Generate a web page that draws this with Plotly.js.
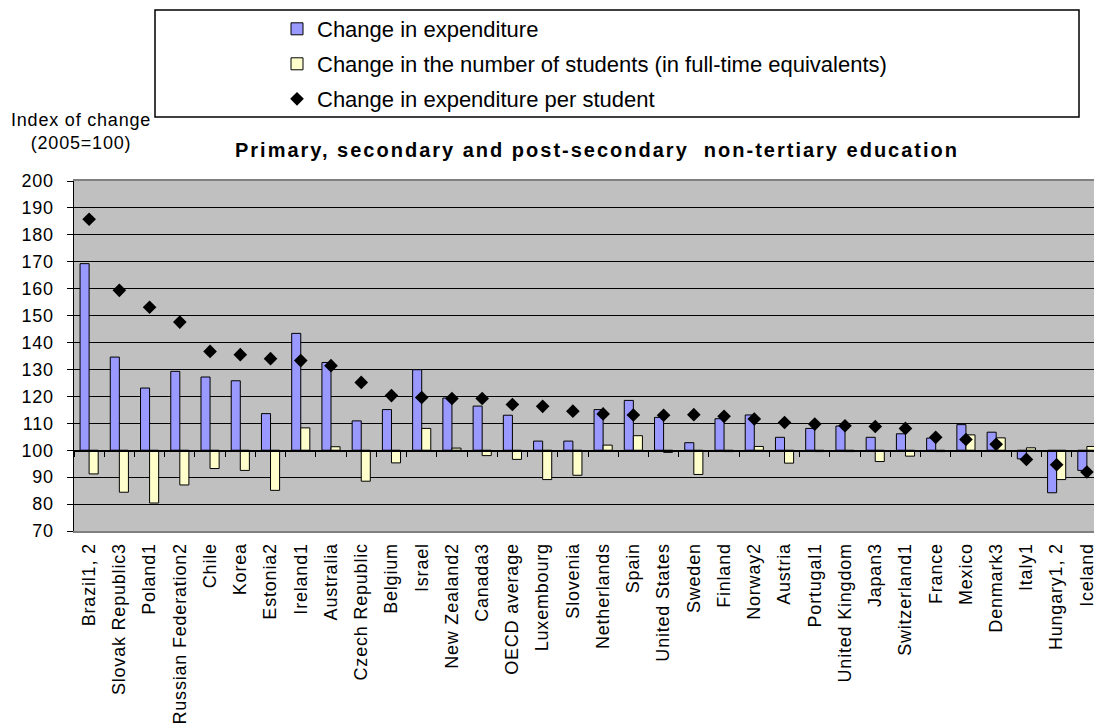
<!DOCTYPE html>
<html>
<head>
<meta charset="utf-8">
<script src="https://cdn.plot.ly/plotly-3.0.1.min.js"></script>
<style>
html, body { margin:0; padding:0; overflow:hidden; background:#ffffff; }
#chart .xtick text { letter-spacing:0.8px; }
#chart .ytick text { letter-spacing:0.8px; }
#chart .gtitle { letter-spacing:2px; }
#chart .annotation-text { letter-spacing:0.8px; }
</style>
</head>
<body>
<div id="chart"></div>
<script>
const categories = ["Brazil1, 2","Slovak Republic3","Poland1","Russian Federation2","Chile","Korea","Estonia2","Ireland1","Australia","Czech Republic","Belgium","Israel","New Zealand2","Canada3","OECD average","Luxembourg","Slovenia","Netherlands","Spain","United States","Sweden","Finland","Norway2","Austria","Portugal1","United Kingdom","Japan3","Switzerland1","France","Mexico","Denmark3","Italy1","Hungary1, 2","Iceland"];
const expenditure = [169.3,134.6,123.1,129.3,127.2,125.8,113.6,143.4,132.6,110.9,115.1,129.9,119.4,116.4,113.0,103.4,103.4,115.1,118.5,112.2,102.8,111.7,113.1,104.8,108.1,109.0,104.8,106.1,104.5,109.5,106.7,96.8,84.2,92.5];
const students = [91.2,84.4,80.4,87.1,93.2,92.5,85.1,108.3,101.3,88.5,95.3,108.1,100.8,98.0,96.6,89.1,90.7,101.9,105.4,99.2,91.0,99.5,101.4,95.2,99.5,99.5,95.8,97.8,99.5,105.7,104.6,100.9,89.1,101.4];
const perStudent = [185.8,159.4,153.1,147.6,136.7,135.5,134.0,133.3,131.4,125.2,120.3,119.6,119.2,119.2,117.0,116.3,114.5,113.5,113.1,113.0,113.2,112.6,111.6,110.3,109.7,109.1,108.8,108.1,104.8,104.0,102.2,96.6,94.6,91.9];
const baseIndex = 100;
const seriesNames = ["Change in expenditure","Change in the number of students (in full-time equivalents)","Change in expenditure per student"];

const W = 1110, H = 724;
const L = 74, R = 8, T = 181, B = 193;
const pw = W - L - R, ph = H - T - B;
const px = v => (v - L) / pw;
const py = v => (H - B - v) / ph;

const traces = [
  {type:'bar', name:seriesNames[0], x:categories, y:expenditure.map(v => v - baseIndex), base:baseIndex,
   marker:{color:'#9999FF', line:{color:'#000000', width:1}}, legend:'legend', showlegend:true, hoverinfo:'skip'},
  {type:'bar', name:seriesNames[1], x:categories, y:students.map(v => v - baseIndex), base:baseIndex,
   marker:{color:'#FFFFCC', line:{color:'#000000', width:1}}, legend:'legend2', showlegend:true, hoverinfo:'skip'},
  {type:'scatter', mode:'markers', name:seriesNames[2], x:categories, y:perStudent, xaxis:'x2', yaxis:'y',
   marker:{symbol:'diamond', size:10.5, color:'#000000'}, legend:'legend3', showlegend:true, hoverinfo:'skip'}
];

const legBase = {xref:'paper', yref:'paper', x:px(277), xanchor:'left', yanchor:'middle', visible:true,
  bgcolor:'rgba(0,0,0,0)', borderwidth:0, font:{size:22, color:'#000000'}};

const layout = {
  width:W, height:H,
  showlegend:true,
  margin:{l:L, r:R, t:T, b:B, pad:0, autoexpand:false},
  paper_bgcolor:'#ffffff', plot_bgcolor:'#C0C0C0',
  barmode:'group', bargap:0.4, bargroupgap:0,
  font:{family:'"Liberation Sans", Arial, sans-serif', color:'#000000'},
  title:{text:'Primary, secondary and post-secondary\u00a0 non-tertiary education',
    font:{size:20, weight:'bold', color:'#000000'},
    xref:'container', x:597/W, xanchor:'center', yref:'container', y:1 - 150/H, yanchor:'middle'},
  xaxis:{type:'category', categoryorder:'array', categoryarray:categories, range:[-0.5, categories.length - 0.5],
    tickangle:-90, tickfont:{size:18, color:'#000000'}, showline:true, linecolor:'#808080', linewidth:2, mirror:true,
    ticks:'', showgrid:false, zeroline:false, ticklabelstandoff:3, automargin:false},
  xaxis2:{type:'category', categoryorder:'array', categoryarray:categories, range:[-0.5, categories.length - 0.5],
    overlaying:'x', anchor:'free', position:(baseIndex - 70) / (200 - 70), side:'bottom',
    showline:true, linecolor:'#000000', linewidth:1.5, ticks:'outside', ticklen:5, tickwidth:1, tickcolor:'#000000',
    tickson:'boundaries', showticklabels:false, showgrid:false, zeroline:false, automargin:false},
  yaxis:{range:[70, 200], tick0:70, dtick:10, showgrid:true, gridcolor:'#000000', gridwidth:1,
    showline:true, linecolor:'#000000', linewidth:1.5, ticks:'outside', ticklen:6, tickcolor:'#000000',
    tickfont:{size:18, color:'#000000'}, zeroline:false, ticklabelstandoff:9, automargin:false},
  legend:Object.assign({}, legBase, {y:py(29)}),
  legend2:Object.assign({}, legBase, {y:py(64)}),
  legend3:Object.assign({}, legBase, {y:py(99)}),
  shapes:[{type:'rect', xref:'paper', yref:'paper', x0:px(155), x1:px(1079), y0:py(117), y1:py(10),
    line:{color:'#000000', width:1.5}, fillcolor:'rgba(0,0,0,0)', layer:'above'}],
  annotations:[{text:'Index of change<br>(2005=100)', xref:'paper', yref:'paper', x:px(81), y:py(131),
    xanchor:'center', yanchor:'middle', showarrow:false, align:'center', font:{size:18, color:'#000000'}}]
};

Plotly.newPlot('chart', traces, layout, {displayModeBar:false, staticPlot:true});
</script>
</body>
</html>
